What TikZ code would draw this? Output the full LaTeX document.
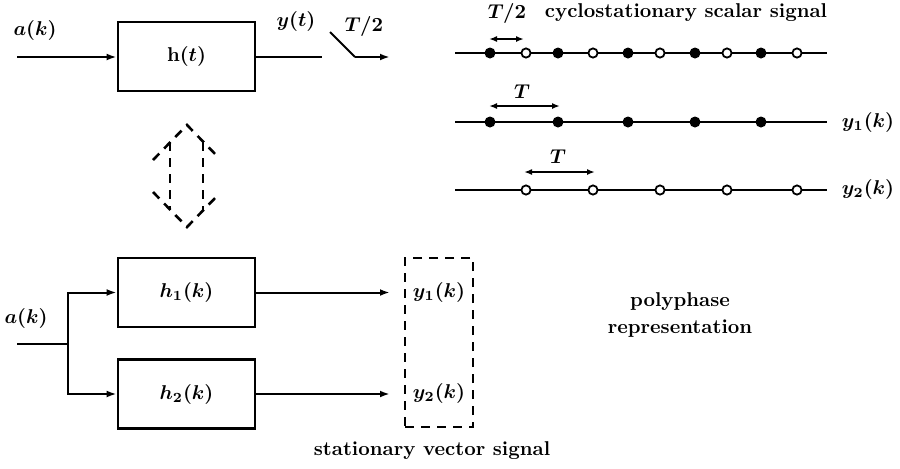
\documentclass[tikz,border=0pt]{standalone}
\usetikzlibrary{arrows.meta}
\begin{document}
\begin{tikzpicture}[x=0.5pt,y=-0.5pt,
  lbl/.style={inner sep=0pt, font=\bfseries\boldmath},
  blk/.style={draw, line width=1.3pt, minimum width=68.5pt, minimum height=34.5pt, inner sep=0pt, font=\bfseries\boldmath},
  sig/.style={line width=1pt},
  arr/.style={line width=1pt, -{Latex[length=5pt,width=3.4pt]}},
  dbl/.style={line width=0.9pt, {Latex[length=4pt,width=3pt]}-{Latex[length=4pt,width=3pt]}},
  fdot/.style={circle, fill, inner sep=0pt, minimum size=5.5pt},
  odot/.style={circle, draw, fill=white, line width=0.9pt, inner sep=0pt, minimum size=4.6pt},
  dsh/.style={line width=1.3pt, dash pattern=on 4.5pt off 3.5pt}]
\useasboundingbox (0,0) rectangle (900,468);

% ---------- top: continuous system ----------
\node[blk] (ht) at (186.5,56.5) {h$(t)$};
\coordinate (ain) at (17,57);
\node[lbl] (alab) at (35,30) {$a(k)$};
\draw[arr] (ain) -- (ht.west |- ain);
\coordinate (yout) at (322,57);
\draw[sig] (ht.east |- yout) -- (yout);
\node[lbl] (ylab) at (296,21) {$y(t)$};
\coordinate (sw1) at (330,32);
\coordinate (sw2) at (355,57);
\coordinate (swo) at (390,57);
\draw[sig] (sw1) -- (sw2);
\draw[arr] (sw2) -- (swo);
\node[lbl] (tslab) at (364,26) {$T/2$};

% ---------- sampled signals ----------
\node[lbl] (t2) at (507,13) {$T/2$};
\node[lbl] (cyc) at (686,13) {cyclostationary scalar signal};
\coordinate (l1a) at (455,53); \coordinate (l1b) at (827,53);
\draw[sig] (l1a) -- (l1b);
\foreach \x in {490,558,628,695,761} \node[fdot] at (\x,53) {};
\foreach \x in {526,593,660,727,797} \node[odot] at (\x,53) {};
\coordinate (d1a) at (489,39); \coordinate (d1b) at (524,39);
\draw[dbl] (d1a) -- (d1b);

\coordinate (l2a) at (455,122); \coordinate (l2b) at (827,122);
\draw[sig] (l2a) -- (l2b);
\foreach \x in {490,558,628,695,761} \node[fdot] at (\x,122) {};
\coordinate (d2a) at (489,106); \coordinate (d2b) at (560,106);
\draw[dbl] (d2a) -- (d2b);
\node[lbl] (tt1) at (522,92) {$T$};
\node[lbl] (y1r) at (868,122) {$y_1(k)$};

\coordinate (l3a) at (455,190); \coordinate (l3b) at (827,190);
\draw[sig] (l3a) -- (l3b);
\foreach \x in {526,593,660,727,797} \node[odot] at (\x,190) {};
\coordinate (d3a) at (524,172); \coordinate (d3b) at (595,172);
\draw[dbl] (d3a) -- (d3b);
\node[lbl] (tt2) at (558,157) {$T$};
\node[lbl] (y2r) at (868,189) {$y_2(k)$};

% ---------- equivalence double arrow ----------
\draw[dsh] (153,160) -- (187,125) -- (219,158);
\draw[dsh] (153,192) -- (187,227) -- (219,194);
\draw[dsh] (170,142) -- (170,210);
\draw[dsh] (203,142) -- (203,210);

% ---------- bottom: polyphase system ----------
\node[blk] (h1) at (186.5,292.5) {$h_1(k)$};
\node[blk] (h2) at (186.5,394) {$h_2(k)$};
\node[lbl] (alab2) at (26,318) {$a(k)$};
\coordinate (bin) at (17,344);
\coordinate (br) at (68,344);
\draw[sig] (bin) -- (br);
\draw[arr] (br) |- (h1.west);
\draw[arr] (br) |- (h2.west);
\coordinate (o1) at (390,292.5);
\coordinate (o2) at (390,394);
\draw[arr] (h1.east) -- (o1);
\draw[arr] (h2.east) -- (o2);
\node[draw, dsh, minimum width=34pt, minimum height=84.5pt, inner sep=0pt] (vec) at (439,342.5) {};
\node[lbl] (y1b) at (439,292) {$y_1(k)$};
\node[lbl] (y2b) at (439,393) {$y_2(k)$};
\node[lbl] (stat) at (432,451) {stationary vector signal};
\node[lbl] (poly) at (680,302) {polyphase};
\node[lbl] (rep) at (680,329) {representation};
\end{tikzpicture}
\end{document}
